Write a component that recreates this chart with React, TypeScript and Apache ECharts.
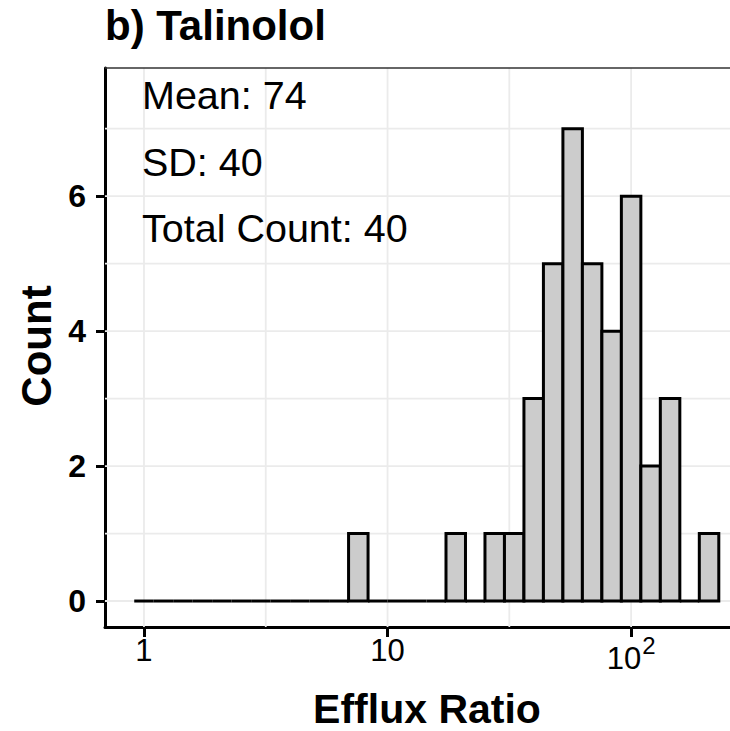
import React, { useEffect, useRef } from "react";
import * as echarts from "echarts";

// ---- data ----
const binCounts = [0, 0, 0, 0, 0, 0, 0, 0, 0, 0, 0, 1, 0, 0, 0, 0, 1, 0, 1, 1, 3, 5, 7, 5, 4, 6, 2, 3, 0, 1];
const binStartLog = -0.04; // log10 of first bin's left edge
const binWidthLog = 0.08; // bin width in log10 units
const xTickValues = [1, 10, 100];
const xTickLabels = [{ base: "1" }, { base: "10" }, { base: "10", sup: "2" }];
const xGridLog = [0, 0.5, 1, 1.5, 2];
const yTickValues = [0, 2, 4, 6];
const yGridValues = [0, 1, 2, 3, 4, 5, 6, 7];
const annotations = ["Mean: 74", "SD: 40", "Total Count: 40"];
const titleText = "b) Talinolol";
const xTitle = "Efflux Ratio";
const yTitle = "Count";

const FONT = "'Liberation Sans', Arial, Helvetica, sans-serif";

export default function App() {
  const ref = useRef<HTMLDivElement>(null);
  useEffect(() => {
    document.body.style.margin = "0";
    if (!ref.current) return;
    const chart = echarts.init(ref.current, null, { renderer: "svg" });
    const xTickLogs = xTickValues.map((v) => Math.log10(v));
    const histData = binCounts.map((c, i) => [
      binStartLog + i * binWidthLog,
      binStartLog + (i + 1) * binWidthLog,
      c,
    ]);
    const option: any = {
      animation: false,
      backgroundColor: "#ffffff",
      grid: {
        left: 105,
        right: 0,
        top: 68,
        bottom: 104,
        show: false,
      },
      xAxis: {
        type: "value",
        min: -0.16,
        max: 2.406,
        splitLine: { show: false },
        axisLine: { show: true, onZero: false, lineStyle: { color: "#000", width: 3 } },
        axisTick: { show: true, customValues: xTickLogs, length: 10, lineStyle: { color: "#000", width: 3 } },
        axisLabel: {
          customValues: xTickLogs,
          margin: 7.5,
          formatter: (v: number) => {
            const i = xTickLogs.findIndex((t) => Math.abs(t - v) < 1e-6);
            if (i < 0) return "";
            const l = xTickLabels[i];
            return l.sup ? `{m|${l.base}}{s|${l.sup}}` : `{n|${l.base}}`;
          },
          rich: {
            n: { fontSize: 31, lineHeight: 31, fontFamily: FONT, color: "#000", verticalAlign: "middle", padding: [9, 0, 8, 0] },
            m: { fontSize: 31, lineHeight: 31, fontFamily: FONT, color: "#000", verticalAlign: "middle", padding: [17, 0, 0, 0] },
            s: { fontSize: 24, lineHeight: 24, fontFamily: FONT, color: "#000", verticalAlign: "middle", padding: [0, 0, 9, 1] },
          },
        },
      },
      yAxis: {
        type: "value",
        min: -0.385,
        max: 7.9,
        splitLine: { show: false },
        axisLine: { show: true, onZero: false, lineStyle: { color: "#000", width: 3 } },
        axisTick: { show: true, customValues: yTickValues, length: 9, lineStyle: { color: "#000", width: 3 } },
        axisLabel: {
          customValues: yTickValues,
          margin: 19,
          fontSize: 32,
          fontWeight: "bold",
          fontFamily: FONT,
          color: "#000",
        },
      },
      series: [
        {
          type: "custom",
          z: 1,
          silent: true,
          data: xGridLog.map((v) => [v, 0]),
          encode: { x: 0, y: 1 },
          renderItem: (params: any, api: any) => {
            const cs = params.coordSys;
            const p = api.coord([api.value(0), 0]);
            return {
              type: "line",
              shape: { x1: p[0], y1: cs.y, x2: p[0], y2: cs.y + cs.height },
              style: { stroke: "#EBEBEB", lineWidth: 1.8 },
            };
          },
        },
        {
          type: "custom",
          z: 1,
          silent: true,
          data: yGridValues.map((v) => [0, v]),
          encode: { x: 0, y: 1 },
          renderItem: (params: any, api: any) => {
            const cs = params.coordSys;
            const p = api.coord([0, api.value(1)]);
            return {
              type: "line",
              shape: { x1: cs.x, y1: p[1], x2: cs.x + cs.width, y2: p[1] },
              style: { stroke: "#EBEBEB", lineWidth: 1.8 },
            };
          },
        },
        {
          type: "custom",
          z: 3,
          silent: true,
          data: histData,
          encode: { x: [0, 1], y: 2 },
          renderItem: (params: any, api: any) => {
            const x0 = api.value(0);
            const x1 = api.value(1);
            const c = api.value(2);
            const p0 = api.coord([x0, 0]);
            const p1 = api.coord([x1, c]);
            if (c === 0) {
              return {
                type: "line",
                shape: { x1: p0[0], y1: p0[1], x2: p1[0], y2: p0[1] },
                style: { stroke: "#000", lineWidth: 3 },
              };
            }
            return {
              type: "rect",
              shape: { x: p0[0], y: p1[1], width: p1[0] - p0[0], height: p0[1] - p1[1] },
              style: { fill: "#CCCCCC", stroke: "#000", lineWidth: 3 },
            };
          },
        },
      ],
      graphic: [
        {
          type: "line",
          z: 5,
          shape: { x1: 105, y1: 68, x2: 730, y2: 68 },
          style: { stroke: "#333333", lineWidth: 1.6 },
        },
        {
          type: "text",
          x: 105,
          y: 25,
          style: { text: titleText, font: `bold 42px ${FONT}`, fill: "#000", verticalAlign: "middle", align: "left" },
        },
        ...annotations.map((t, i) => ({
          type: "text",
          x: 142,
          y: 95 + i * 66.5,
          z: 10,
          style: { text: t, font: `39.5px ${FONT}`, fill: "#000", verticalAlign: "middle", align: "left" },
        })),
        {
          type: "text",
          x: 427,
          y: 708.5,
          style: { text: xTitle, font: `bold 41px ${FONT}`, fill: "#000", verticalAlign: "middle", align: "center" },
        },
        {
          type: "text",
          x: 36,
          y: 346,
          rotation: Math.PI / 2,
          style: { text: yTitle, font: `bold 42px ${FONT}`, fill: "#000", verticalAlign: "middle", align: "center" },
        },
      ],
    };
    chart.setOption(option);
    return () => chart.dispose();
  }, []);
  return <div ref={ref} style={{ width: 730, height: 731 }} />;
}
